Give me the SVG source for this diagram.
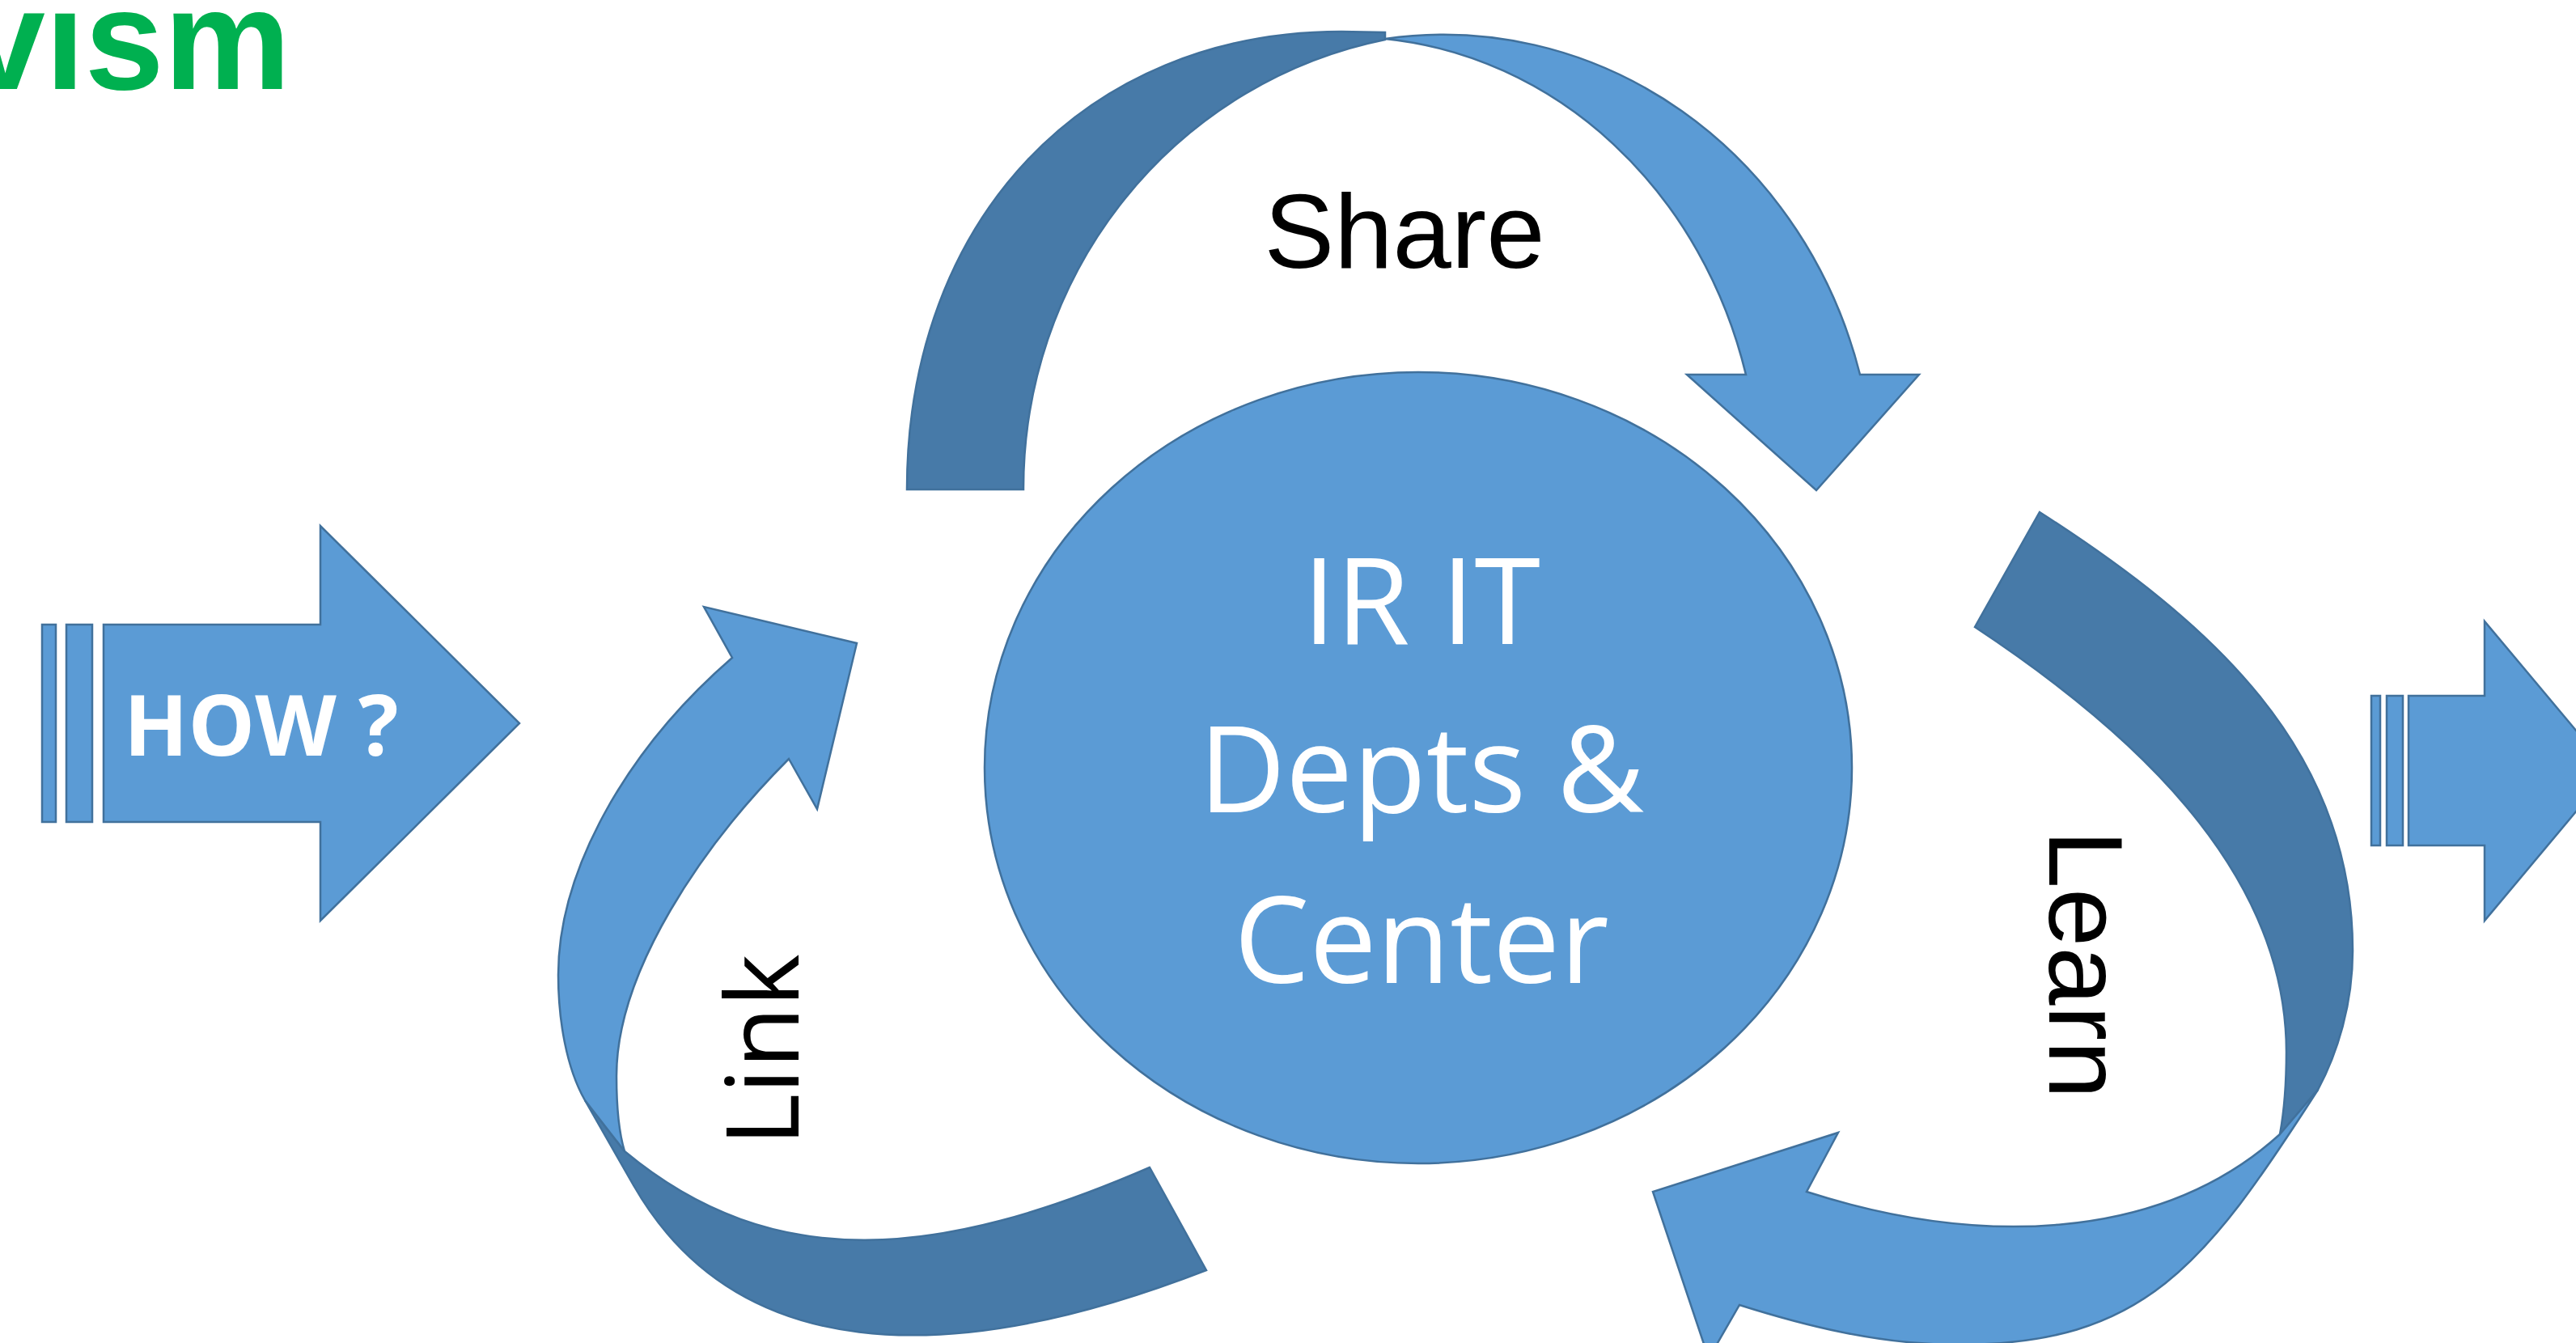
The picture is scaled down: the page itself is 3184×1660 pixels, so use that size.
<svg xmlns="http://www.w3.org/2000/svg" width="3184" height="1660" viewBox="0 0 3184 1660">
<style>
.lt{fill:#5B9BD5;stroke:#41719C;stroke-width:2.5;stroke-linejoin:miter}
.dk{fill:#477AA8;stroke:#41719C;stroke-width:2.5;stroke-linejoin:miter}
.lbl{font-family:"Liberation Sans",Arial,sans-serif;fill:#000}
.lbl2{font-family:"Open Sans","Liberation Sans",sans-serif;fill:#000}
.wt{font-family:"Open Sans","Liberation Sans",sans-serif;fill:#fff}
</style>
<rect width="3184" height="1660" fill="#fff"/>
<text x="-42" y="110" font-family="'Liberation Sans',Arial,sans-serif" font-weight="bold" font-size="176" fill="#00B050">vism</text>

<g id="how">
<rect class="lt" x="52" y="772" width="17" height="244"/>
<rect class="lt" x="82" y="772" width="32" height="244"/>
<path class="lt" d="M128,772 H396 V650 L642,894 L396,1138 V1016 H128 Z"/>
<text class="wt" x="153" y="934" font-size="104" font-weight="bold">HOW ?</text>
</g>

<g id="next">
<rect class="lt" x="2931" y="860" width="11" height="185"/>
<rect class="lt" x="2950" y="860" width="20" height="185"/>
<path class="lt" d="M2977,860 H3071 V768 L3226,953 L3071,1138 V1045 H2977 Z"/>
</g>

<g id="connectors">
<g id="share-arrow">
<path class="dk" d="M1121,605 C1121,272 1341,39 1658,39 L1712,40 L1712,49 A555,565 0 0 0 1265,605 Z"/>
<path class="lt" d="M1712,48 A533,567 0 0 1 2299,463 L2372,463 L2245,606 L2085,463 L2158,463 A510,561 0 0 0 1712,48 Z"/>
<text class="lbl" x="1736" y="331" font-size="130" text-anchor="middle">Share</text>
</g>
<g id="link-arrow">
<path class="dk" d="M723,1360 L783,1465 C908,1683 1166,1696 1491,1570 L1421,1443 C1163,1555 957,1577 772,1423 Z"/>
<path class="lt" d="M723,1360 C700,1320 690,1260 690,1205 C690,1080 770,930 905,813 L870,750 L1059,795 L1010,1000 L975,938 C869,1044 762,1200 762,1330 C762,1370 765,1400 772,1423 Z"/>
<text class="lbl2" transform="translate(987,1298) rotate(-90)" text-anchor="middle" font-size="124">Link</text>
</g>
<g id="learn-arrow">
<path class="dk" d="M2521,633 C2731,768 2908,925 2908,1175 C2908,1240 2890,1300 2865,1347 L2818,1402 C2823,1375 2826,1340 2826,1300 C2826,1070 2624,896 2441,775 Z"/>
<path class="lt" d="M2865,1347 C2725,1565 2650,1662 2420,1662 C2320,1662 2226,1637 2150,1613 L2112,1679 L2043,1473 L2272,1400 L2233,1473 C2445,1541 2670,1536 2818,1402 Z"/>
<text class="lbl" transform="translate(2533,1192) rotate(90)" text-anchor="middle" font-size="130">Learn</text>
</g>
</g>

<g id="center">
<ellipse class="lt" cx="1753" cy="949" rx="536" ry="489"/>
<text class="wt" text-anchor="middle" font-size="148"><tspan x="1757" y="796">IR IT</tspan><tspan x="1757" y="1004">Depts &amp;</tspan><tspan x="1757" y="1215">Center</tspan></text>
</g>
</svg>
